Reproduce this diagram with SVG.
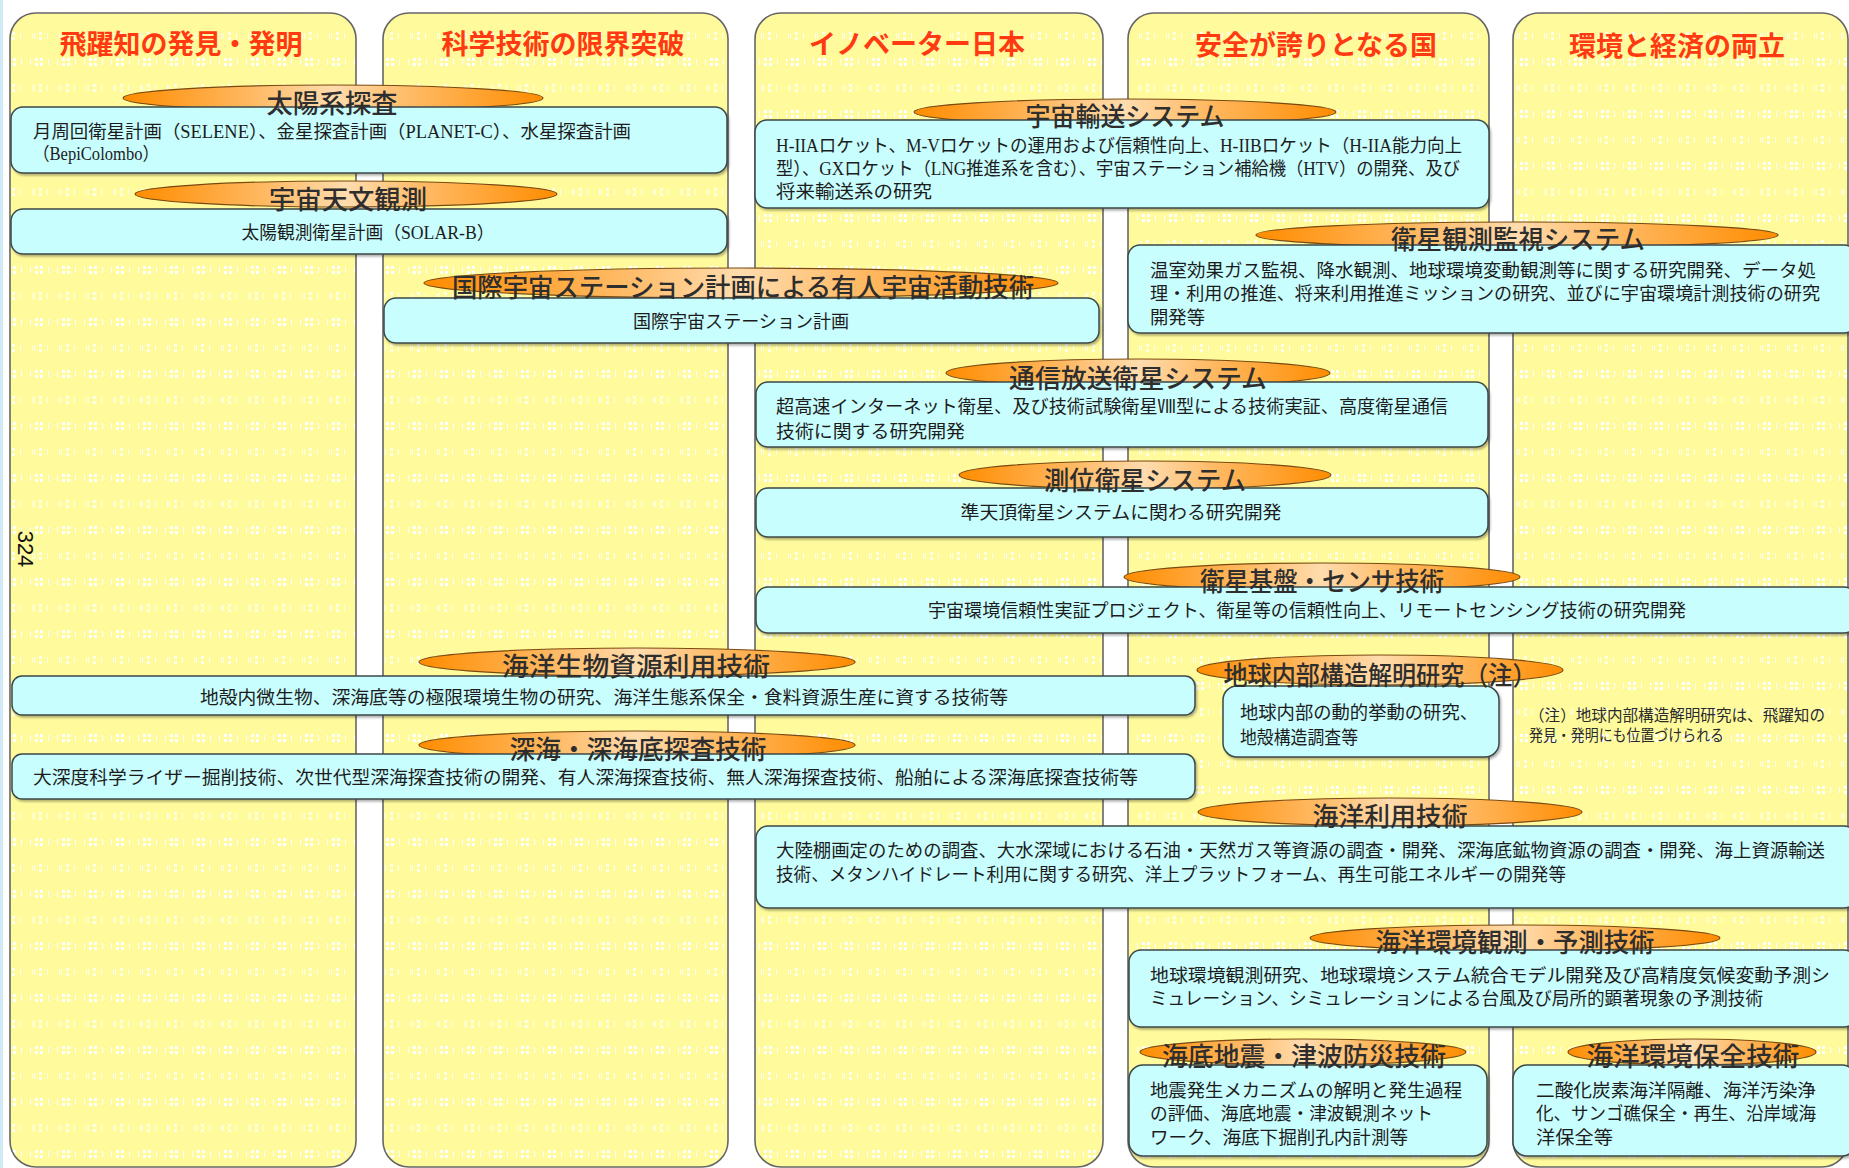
<svg xmlns="http://www.w3.org/2000/svg" width="1849" height="1168" viewBox="0 0 1849 1168">
<style>
.col{fill:url(#dots);stroke:#666;stroke-width:1.6}
.title{font-family:"Noto Sans CJK JP","Noto Sans",sans-serif;font-weight:bold;font-size:27px;fill:#ff3a12;text-anchor:middle;dominant-baseline:central}
.ell{fill:url(#og);stroke:#7a4a12;stroke-width:1.2}
.box{fill:#c9feff;stroke:#3c4848;stroke-width:1.5;filter:url(#sh)}
.lab{font-family:"Noto Sans CJK JP","Noto Sans",sans-serif;font-weight:500;font-size:26px;fill:#2e2e2e;text-anchor:middle;dominant-baseline:central}
.t{font-family:"Liberation Serif","Noto Sans CJK JP",serif;font-size:18px;fill:#1c1c1c;dominant-baseline:central}
.c{text-anchor:middle}
.note{font-family:"Liberation Serif","Noto Sans CJK JP",serif;font-size:15.5px;fill:#2a2a2a;dominant-baseline:central}
</style>
<defs>
<pattern id="dots" width="27" height="52" patternUnits="userSpaceOnUse">
<rect width="27" height="52" fill="#fffb9c"/>
<g fill="#ffffff">
<rect x="8" y="6" width="3" height="3"/><rect x="13" y="6" width="3" height="3"/><rect x="8" y="11" width="3" height="3"/><rect x="13" y="11" width="3" height="3"/>
<rect x="3" y="7" width="1" height="6"/><rect x="21" y="7" width="1" height="6"/>
</g>
<g fill="#ffffff" opacity="0.75">
<rect x="12" y="32" width="3" height="3"/><rect x="12" y="37" width="3" height="3"/><rect x="5" y="33" width="1" height="6"/><rect x="7" y="33" width="1" height="6"/><rect x="20" y="33" width="1" height="6"/>
</g>
</pattern>
<linearGradient id="og" x1="0" y1="0" x2="1" y2="0">
<stop offset="0" stop-color="#ff8c00"/>
<stop offset="0.3" stop-color="#ffb860"/>
<stop offset="0.5" stop-color="#ffdcae"/>
<stop offset="0.7" stop-color="#ffb860"/>
<stop offset="1" stop-color="#ff8c00"/>
</linearGradient>
<filter id="sh" x="-5%" y="-20%" width="110%" height="150%">
<feDropShadow dx="1.5" dy="2" stdDeviation="1.2" flood-color="#000" flood-opacity="0.3"/>
</filter>
</defs>
<rect width="1849" height="1168" fill="#ffffff"/>
<rect x="0" y="0" width="3" height="1168" fill="#cfe9f7"/>

<g id="columns">
<rect class="col" x="10" y="13" width="346" height="1154" rx="26"/>
<rect class="col" x="383" y="13" width="345" height="1154" rx="26"/>
<rect class="col" x="755" y="13" width="348" height="1154" rx="26"/>
<rect class="col" x="1128" y="13" width="361" height="1154" rx="26"/>
<rect class="col" x="1513" y="13" width="335" height="1154" rx="26"/>
<text class="title" x="181" y="42">飛躍知の発見・発明</text>
<text class="title" x="563" y="42">科学技術の限界突破</text>
<text class="title" x="917" y="42">イノベーター日本</text>
<text class="title" x="1316" y="43">安全が誇りとなる国</text>
<text class="title" x="1677" y="44">環境と経済の両立</text>
</g>

<text x="25" y="549" transform="rotate(90 25 549)" text-anchor="middle" dominant-baseline="central" font-family="Liberation Sans, Arial, sans-serif" font-size="22" fill="#111">324</text>

<g id="connectors"></g>

<g id="node-taiyoukei">
<ellipse class="ell" cx="333" cy="98" rx="210" ry="13"/>
<rect class="box" x="11" y="107" width="716" height="66" rx="12"/>
<text class="lab" x="332" y="101" textLength="131" lengthAdjust="spacingAndGlyphs">太陽系探査</text>
<text class="t" x="33" y="132" textLength="598" lengthAdjust="spacingAndGlyphs">月周回衛星計画（SELENE）、金星探査計画（PLANET-C）、水星探査計画</text>
<text class="t" x="33" y="154" textLength="126" lengthAdjust="spacingAndGlyphs">（BepiColombo）</text>
</g>

<g id="node-uchutenmon">
<ellipse class="ell" cx="346" cy="194" rx="211" ry="13"/>
<rect class="box" x="11" y="209" width="716" height="45" rx="12"/>
<text class="lab" x="348" y="197" textLength="158" lengthAdjust="spacingAndGlyphs">宇宙天文観測</text>
<text class="t c" x="368" y="233" textLength="253" lengthAdjust="spacingAndGlyphs">太陽観測衛星計画（SOLAR-B）</text>
</g>

<g id="node-iss">
<ellipse class="ell" cx="741" cy="283" rx="317" ry="15"/>
<rect class="box" x="384" y="298" width="715" height="45" rx="12"/>
<text class="lab" x="743" y="285" textLength="582" lengthAdjust="spacingAndGlyphs">国際宇宙ステーション計画による有人宇宙活動技術</text>
<text class="t c" x="741" y="322" textLength="216" lengthAdjust="spacingAndGlyphs">国際宇宙ステーション計画</text>
</g>

<g id="node-yusou">
<ellipse class="ell" cx="1125" cy="112" rx="211" ry="13"/>
<rect class="box" x="755" y="120" width="734" height="88" rx="12"/>
<text class="lab" x="1125" y="114" textLength="199" lengthAdjust="spacingAndGlyphs">宇宙輸送システム</text>
<text class="t" x="776" y="146" textLength="686" lengthAdjust="spacingAndGlyphs">H-IIAロケット、M-Vロケットの運用および信頼性向上、H-IIBロケット（H-IIA能力向上</text>
<text class="t" x="776" y="169" textLength="684" lengthAdjust="spacingAndGlyphs">型）、GXロケット（LNG推進系を含む）、宇宙ステーション補給機（HTV）の開発、及び</text>
<text class="t" x="776" y="192" textLength="156" lengthAdjust="spacingAndGlyphs">将来輸送系の研究</text>
</g>

<g id="node-kansoku">
<ellipse class="ell" cx="1517" cy="235" rx="261" ry="13"/>
<rect class="box" x="1128" y="245" width="728" height="88" rx="12"/>
<text class="lab" x="1518" y="237" textLength="254" lengthAdjust="spacingAndGlyphs">衛星観測監視システム</text>
<text class="t" x="1150" y="271" textLength="666" lengthAdjust="spacingAndGlyphs">温室効果ガス監視、降水観測、地球環境変動観測等に関する研究開発、データ処</text>
<text class="t" x="1150" y="294" textLength="670" lengthAdjust="spacingAndGlyphs">理・利用の推進、将来利用推進ミッションの研究、並びに宇宙環境計測技術の研究</text>
<text class="t" x="1150" y="318" textLength="55" lengthAdjust="spacingAndGlyphs">開発等</text>
</g>

<g id="node-tsushin">
<ellipse class="ell" cx="1138" cy="373" rx="192" ry="14"/>
<rect class="box" x="756" y="382" width="732" height="65" rx="12"/>
<text class="lab" x="1138" y="376" textLength="258" lengthAdjust="spacingAndGlyphs">通信放送衛星システム</text>
<text class="t" x="776" y="407" textLength="672" lengthAdjust="spacingAndGlyphs">超高速インターネット衛星、及び技術試験衛星Ⅷ型による技術実証、高度衛星通信</text>
<text class="t" x="776" y="432" textLength="189" lengthAdjust="spacingAndGlyphs">技術に関する研究開発</text>
</g>

<g id="node-sokui">
<ellipse class="ell" cx="1145" cy="475" rx="186" ry="14"/>
<rect class="box" x="756" y="488" width="732" height="49" rx="12"/>
<text class="lab" x="1145" y="478" textLength="202" lengthAdjust="spacingAndGlyphs">測位衛星システム</text>
<text class="t c" x="1121" y="513" textLength="321" lengthAdjust="spacingAndGlyphs">準天頂衛星システムに関わる研究開発</text>
</g>

<g id="node-kiban">
<ellipse class="ell" cx="1322" cy="577" rx="198" ry="14"/>
<rect class="box" x="756" y="587" width="1100" height="46" rx="12"/>
<text class="lab" x="1322" y="579" textLength="244" lengthAdjust="spacingAndGlyphs">衛星基盤・センサ技術</text>
<text class="t c" x="1307" y="611" textLength="758" lengthAdjust="spacingAndGlyphs">宇宙環境信頼性実証プロジェクト、衛星等の信頼性向上、リモートセンシング技術の研究開発</text>
</g>

<g id="node-seibutsu">
<ellipse class="ell" cx="637" cy="662" rx="218" ry="14"/>
<rect class="box" x="12" y="676" width="1183" height="39" rx="10"/>
<text class="lab" x="636" y="664" textLength="268" lengthAdjust="spacingAndGlyphs">海洋生物資源利用技術</text>
<text class="t c" x="604" y="698" textLength="808" lengthAdjust="spacingAndGlyphs">地殻内微生物、深海底等の極限環境生物の研究、海洋生態系保全・食料資源生産に資する技術等</text>
</g>

<g id="node-shinkai">
<ellipse class="ell" cx="637" cy="745" rx="218" ry="14"/>
<rect class="box" x="12" y="754" width="1183" height="45" rx="10"/>
<text class="lab" x="638" y="747" textLength="257" lengthAdjust="spacingAndGlyphs">深海・深海底探査技術</text>
<text class="t" x="33" y="778" textLength="1105" lengthAdjust="spacingAndGlyphs">大深度科学ライザー掘削技術、次世代型深海探査技術の開発、有人深海探査技術、無人深海探査技術、船舶による深海底探査技術等</text>
</g>

<g id="node-chikyunaibu">
<ellipse class="ell" cx="1380" cy="670" rx="183" ry="15"/>
<rect class="box" x="1223" y="686" width="276" height="71" rx="14"/>
<text class="lab" x="1380" y="673" textLength="313" lengthAdjust="spacingAndGlyphs">地球内部構造解明研究（注）</text>
<text class="t" x="1240" y="713" textLength="238" lengthAdjust="spacingAndGlyphs">地球内部の動的挙動の研究、</text>
<text class="t" x="1240" y="738" textLength="118" lengthAdjust="spacingAndGlyphs">地殻構造調査等</text>
</g>

<g id="note">
<text class="note" x="1529" y="715" textLength="296" lengthAdjust="spacingAndGlyphs">（注）地球内部構造解明研究は、飛躍知の</text>
<text class="note" x="1529" y="735" textLength="195" lengthAdjust="spacingAndGlyphs">発見・発明にも位置づけられる</text>
</g>

<g id="node-kaiyoriyou">
<ellipse class="ell" cx="1390" cy="812" rx="192" ry="14"/>
<rect class="box" x="756" y="826" width="1100" height="82" rx="12"/>
<text class="lab" x="1390" y="814" textLength="155" lengthAdjust="spacingAndGlyphs">海洋利用技術</text>
<text class="t" x="776" y="851" textLength="1049" lengthAdjust="spacingAndGlyphs">大陸棚画定のための調査、大水深域における石油・天然ガス等資源の調査・開発、深海底鉱物資源の調査・開発、海上資源輸送</text>
<text class="t" x="776" y="875" textLength="790" lengthAdjust="spacingAndGlyphs">技術、メタンハイドレート利用に関する研究、洋上プラットフォーム、再生可能エネルギーの開発等</text>
</g>

<g id="node-kankyokansoku">
<ellipse class="ell" cx="1515" cy="938" rx="205" ry="13"/>
<rect class="box" x="1129" y="950" width="727" height="77" rx="12"/>
<text class="lab" x="1515" y="940" textLength="279" lengthAdjust="spacingAndGlyphs">海洋環境観測・予測技術</text>
<text class="t" x="1150" y="976" textLength="680" lengthAdjust="spacingAndGlyphs">地球環境観測研究、地球環境システム統合モデル開発及び高精度気候変動予測シ</text>
<text class="t" x="1150" y="999" textLength="613" lengthAdjust="spacingAndGlyphs">ミュレーション、シミュレーションによる台風及び局所的顕著現象の予測技術</text>
</g>

<g id="node-jishin">
<ellipse class="ell" cx="1303" cy="1052" rx="163" ry="13"/>
<rect class="box" x="1129" y="1065" width="358" height="91" rx="14"/>
<text class="lab" x="1304" y="1054" textLength="284" lengthAdjust="spacingAndGlyphs">海底地震・津波防災技術</text>
<text class="t" x="1150" y="1091" textLength="312" lengthAdjust="spacingAndGlyphs">地震発生メカニズムの解明と発生過程</text>
<text class="t" x="1150" y="1114" textLength="283" lengthAdjust="spacingAndGlyphs">の評価、海底地震・津波観測ネット</text>
<text class="t" x="1150" y="1138" textLength="258" lengthAdjust="spacingAndGlyphs">ワーク、海底下掘削孔内計測等</text>
</g>

<g id="node-hozen">
<ellipse class="ell" cx="1692" cy="1052" rx="124" ry="13"/>
<rect class="box" x="1513" y="1065" width="343" height="91" rx="14"/>
<text class="lab" x="1693" y="1054" textLength="213" lengthAdjust="spacingAndGlyphs">海洋環境保全技術</text>
<text class="t" x="1536" y="1091" textLength="280" lengthAdjust="spacingAndGlyphs">二酸化炭素海洋隔離、海洋汚染浄</text>
<text class="t" x="1536" y="1114" textLength="280" lengthAdjust="spacingAndGlyphs">化、サンゴ礁保全・再生、沿岸域海</text>
<text class="t" x="1536" y="1138" textLength="77" lengthAdjust="spacingAndGlyphs">洋保全等</text>
</g>
</svg>
